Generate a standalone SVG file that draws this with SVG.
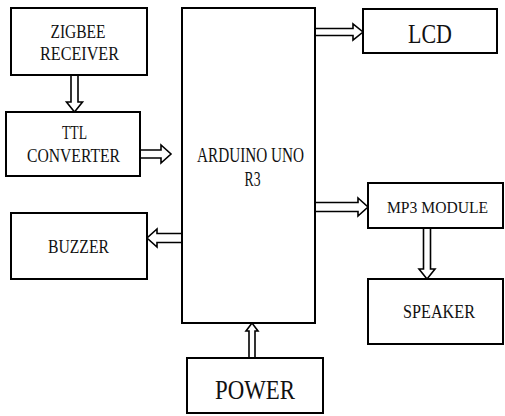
<svg xmlns="http://www.w3.org/2000/svg" width="505" height="416" viewBox="0 0 505 416">
<style>
.box{fill:#fff;stroke:#000;stroke-width:2}
.t{font-family:"Liberation Serif","Times New Roman","DejaVu Serif",serif;fill:#111;text-anchor:middle}
.arr{fill:#fff;stroke:#000;stroke-width:1.6;stroke-linejoin:miter}
</style>
<rect width="505" height="416" fill="#fff"/>
<g id="connectors">
<path class="arr" d="M71,75 V102 H66.5 L74.5,112 L82.5,102 H78 V75"/>
<path class="arr" d="M140,150 H161 V145 L171,154 L161,163 V158 H140"/>
<path class="arr" d="M316,28.5 H353 V24 L363,32 L353,40 V35.5 H316"/>
<path class="arr" d="M316,202.5 H358 V198 L368,207 L358,216 V211.5 H316"/>
<path class="arr" d="M181,233.5 H157 V229 L147,238 L157,247 V242.5 H181"/>
<path class="arr" d="M423.5,229 V269 H419 L427,279 L435,269 H430.5 V229"/>
<path class="arr" d="M249,357 V331 H246 L252,323 L258,331 H255 V357"/>
</g>
<g id="zigbee">
<rect class="box" x="11" y="8" width="136" height="67"/>
<text class="t" x="78" y="38" font-size="19" textLength="55" lengthAdjust="spacingAndGlyphs">ZIGBEE</text>
<text class="t" x="79.5" y="60" font-size="19" textLength="79" lengthAdjust="spacingAndGlyphs">RECEIVER</text>
</g>
<g id="ttl">
<rect class="box" x="6" y="112" width="134" height="64"/>
<text class="t" x="74.5" y="139" font-size="19" textLength="25" lengthAdjust="spacingAndGlyphs">TTL</text>
<text class="t" x="73.5" y="162" font-size="19" textLength="93" lengthAdjust="spacingAndGlyphs">CONVERTER</text>
</g>
<g id="arduino">
<rect class="box" x="182" y="8" width="133" height="315"/>
<text class="t" x="250.5" y="162" font-size="21" textLength="107" lengthAdjust="spacingAndGlyphs">ARDUINO UNO</text>
<text class="t" x="252.5" y="186" font-size="21" textLength="16" lengthAdjust="spacingAndGlyphs">R3</text>
</g>
<g id="lcd">
<rect class="box" x="363" y="9" width="134" height="44"/>
<text class="t" x="430" y="43" font-size="27" textLength="44" lengthAdjust="spacingAndGlyphs">LCD</text>
</g>
<g id="buzzer">
<rect class="box" x="11" y="213" width="136" height="66"/>
<text class="t" x="78.5" y="253" font-size="19" textLength="61" lengthAdjust="spacingAndGlyphs">BUZZER</text>
</g>
<g id="mp3">
<rect class="box" x="368" y="183" width="135" height="45"/>
<text class="t" x="437.5" y="213" font-size="17" textLength="101" lengthAdjust="spacingAndGlyphs">MP3 MODULE</text>
</g>
<g id="speaker">
<rect class="box" x="368" y="279" width="135" height="65"/>
<text class="t" x="439" y="318" font-size="19" textLength="72" lengthAdjust="spacingAndGlyphs">SPEAKER</text>
</g>
<g id="power">
<rect class="box" x="187" y="358" width="136" height="55"/>
<text class="t" x="255" y="399" font-size="27" textLength="80" lengthAdjust="spacingAndGlyphs">POWER</text>
</g>
</svg>
